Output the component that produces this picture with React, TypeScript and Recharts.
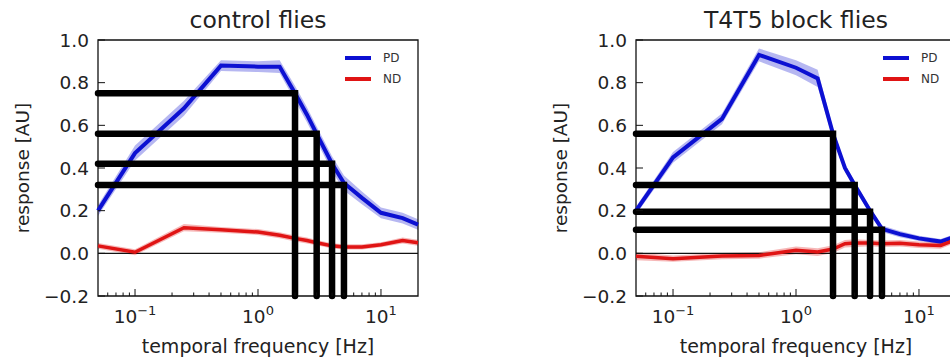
import React from 'react';
import { ComposedChart, Line, Area, XAxis, YAxis, ReferenceLine, ReferenceArea, Legend } from 'recharts';

const frequencies = [0.05, 0.1, 0.25, 0.5, 1, 1.5, 2, 2.5, 3, 4, 5, 7, 10, 15, 20];

const controlPD = [0.2, 0.47, 0.68, 0.88, 0.875, 0.875, 0.75, 0.65, 0.56, 0.42, 0.33, 0.26, 0.19, 0.165, 0.135];
const controlPDsem = [0.025, 0.035, 0.035, 0.025, 0.025, 0.03, 0.035, 0.035, 0.035, 0.035, 0.035, 0.03, 0.025, 0.025, 0.025];
const controlND = [0.035, 0.005, 0.12, 0.11, 0.1, 0.085, 0.07, 0.06, 0.05, 0.035, 0.03, 0.03, 0.04, 0.06, 0.05];
const controlNDsem = [0.014, 0.014, 0.017, 0.014, 0.014, 0.014, 0.014, 0.014, 0.012, 0.012, 0.012, 0.012, 0.012, 0.014, 0.014];

const blockPD = [0.2, 0.45, 0.63, 0.93, 0.87, 0.82, 0.56, 0.4, 0.32, 0.2, 0.115, 0.09, 0.07, 0.055, 0.08];
const blockPDsem = [0.018, 0.025, 0.025, 0.03, 0.035, 0.04, 0.025, 0.018, 0.018, 0.015, 0.015, 0.015, 0.012, 0.012, 0.012];
const blockND = [-0.014, -0.025, -0.013, -0.01, 0.014, 0.006, 0.02, 0.045, 0.048, 0.048, 0.045, 0.047, 0.04, 0.037, 0.065];
const blockNDsem = [0.018, 0.015, 0.015, 0.015, 0.018, 0.018, 0.018, 0.018, 0.018, 0.015, 0.015, 0.015, 0.015, 0.015, 0.015];

const markerFrequencies = [2, 3, 4, 5];
const controlLevels = [0.75, 0.56, 0.42, 0.32];
const blockLevels = [0.56, 0.32, 0.195, 0.11];

const yTicks = [-0.2, 0, 0.2, 0.4, 0.6, 0.8, 1.0];
const xMajorTicks = [0.1, 1, 10];
const xMinorTicks = [0.06, 0.07, 0.08, 0.09, 0.2, 0.3, 0.4, 0.5, 0.6, 0.7, 0.8, 0.9, 2, 3, 4, 5, 6, 7, 8, 9];
const xExponents: Record<string, string> = { '0.1': '\u22121', '1': '0', '10': '1' };
const legendOrder = ['PD', 'ND'];

const X_MIN = 0.05;
const X_MAX = 20;
const Y_MIN = -0.2;
const Y_MAX = 1.0;

const FONT = 'DejaVu Sans';
const BLUE = '#0c10d2';
const RED = '#e01414';
const TEXT = '#222';

const XTick = (props: any) => {
  const { x, y, payload } = props;
  const v = payload.value;
  const major = xMajorTicks.includes(v);
  const len = major ? 7 : 3.5;
  return (
    <g>
      <line x1={x} x2={x} y1={y} y2={y - len} stroke="#111" strokeWidth={1} />
      {major && (
        <text x={x} y={y + 27} textAnchor="middle" fontFamily={FONT} fontSize={18.5} fill={TEXT}>
          <tspan>10</tspan>
          <tspan dy={-8} fontSize={13}>{xExponents[String(v)]}</tspan>
        </text>
      )}
    </g>
  );
};

const YTick = (props: any) => {
  const { x, y, payload } = props;
  const v = payload.value;
  const s = (v < 0 ? '\u2212' : '') + Math.abs(v).toFixed(1);
  return (
    <g>
      <line x1={x} x2={x + 7} y1={y} y2={y} stroke="#111" strokeWidth={1} />
      <text x={x - 9} y={y} textAnchor="end" dominantBaseline="central" fontFamily={FONT} fontSize={18.5} fill={TEXT}>
        {s}
      </text>
    </g>
  );
};

const renderLegend = (props: any) => {
  const items = (props.payload || [])
    .filter((p: any) => legendOrder.includes(p.value))
    .sort((a: any, b: any) => legendOrder.indexOf(a.value) - legendOrder.indexOf(b.value));
  return (
    <div style={{ fontFamily: FONT, fontSize: 12 }}>
      {items.map((it: any) => (
        <div key={it.value} style={{ display: 'flex', alignItems: 'center', height: 21 }}>
          <div style={{ width: 26, height: 4, background: it.color, marginRight: 12 }} />
          <span style={{ color: '#333' }}>{it.value}</span>
        </div>
      ))}
    </div>
  );
};

type PanelProps = {
  title: string;
  pd: number[];
  pdSem: number[];
  nd: number[];
  ndSem: number[];
  levels: number[];
};

const Panel = ({ title, pd, pdSem, nd, ndSem, levels }: PanelProps) => {
  const rows = frequencies.map((f, i) => ({
    f,
    pd: pd[i],
    pdBand: [pd[i] - pdSem[i], pd[i] + pdSem[i]],
    nd: nd[i],
    ndBand: [nd[i] - ndSem[i], nd[i] + ndSem[i]],
  }));
  const markers = markerFrequencies.map((tf, i) => [
    { f: X_MIN, y: levels[i] },
    { f: tf, y: levels[i] },
    { f: tf, y: Y_MIN },
  ]);
  return (
    <ComposedChart width={480} height={361} data={rows} margin={{ top: 40, right: 62, left: 38, bottom: 35 }}>
      <XAxis
        dataKey="f"
        type="number"
        scale="log"
        domain={[X_MIN, X_MAX]}
        ticks={[...xMajorTicks, ...xMinorTicks].sort((a, b) => a - b)}
        interval={0}
        tick={<XTick />}
        tickLine={false}
        axisLine={false}
        tickSize={0}
        tickMargin={0}
        height={30}
        label={(p: any) => {
          const vb = p.viewBox;
          return (
            <text x={vb.x + vb.width / 2} y={vb.y + 57} textAnchor="middle" fontFamily={FONT} fontSize={19} fill={TEXT}>
              temporal frequency [Hz]
            </text>
          );
        }}
      />
      <YAxis
        type="number"
        domain={[Y_MIN, Y_MAX]}
        ticks={yTicks}
        interval={0}
        tick={<YTick />}
        tickLine={false}
        axisLine={false}
        tickSize={0}
        tickMargin={0}
        width={60}
        label={(p: any) => {
          const vb = p.viewBox;
          const cx = vb.x + vb.width - 76;
          const cy = vb.y + vb.height / 2;
          return (
            <text x={cx} y={cy} transform={`rotate(-90 ${cx} ${cy})`} textAnchor="middle" dominantBaseline="central" fontFamily={FONT} fontSize={18.5} fill={TEXT}>
              response [AU]
            </text>
          );
        }}
      />
      <ReferenceLine y={0} stroke="#111" strokeWidth={1.2} />
      <Area dataKey="pdBand" stroke="none" fill={BLUE} fillOpacity={0.3} isAnimationActive={false} legendType="none" activeDot={false} />
      <Area dataKey="ndBand" stroke="none" fill={RED} fillOpacity={0.3} isAnimationActive={false} legendType="none" activeDot={false} />
      <Line dataKey="pd" name="PD" stroke={BLUE} strokeWidth={4} dot={false} activeDot={false} isAnimationActive={false} />
      <Line dataKey="nd" name="ND" stroke={RED} strokeWidth={3.5} dot={false} activeDot={false} isAnimationActive={false} />
      {markers.map((m, i) => (
        <Line
          key={i}
          data={m}
          dataKey="y"
          stroke="#000"
          strokeWidth={6.5}
          strokeLinecap="round"
          strokeLinejoin="miter"
          dot={false}
          activeDot={false}
          legendType="none"
          isAnimationActive={false}
        />
      ))}
      <ReferenceArea
        x1={X_MIN}
        x2={X_MAX}
        y1={Y_MIN}
        y2={Y_MAX}
        fill="none"
        fillOpacity={0}
        stroke="#111"
        strokeWidth={1.3}
        label={(p: any) => {
          const vb = p.viewBox;
          return (
            <text x={vb.x + vb.width / 2} y={vb.y - 12} textAnchor="middle" fontFamily={FONT} fontSize={23.5} fill={TEXT}>
              {title}
            </text>
          );
        }}
      />
      <Legend
        content={renderLegend}
        layout="horizontal"
        verticalAlign="middle"
        align="center"
        wrapperStyle={{ left: 345, top: 47, width: 90, height: 42 }}
      />
    </ComposedChart>
  );
};

export default function App() {
  return (
    <div style={{ position: 'fixed', left: 0, top: 0, width: 950, height: 361, overflow: 'hidden', background: '#fff' }}>
      <div style={{ position: 'absolute', left: 0, top: 0 }}>
        <Panel title="control flies" pd={controlPD} pdSem={controlPDsem} nd={controlND} ndSem={controlNDsem} levels={controlLevels} />
      </div>
      <div style={{ position: 'absolute', left: 538, top: 0 }}>
        <Panel title="T4T5 block flies" pd={blockPD} pdSem={blockPDsem} nd={blockND} ndSem={blockNDsem} levels={blockLevels} />
      </div>
    </div>
  );
}
